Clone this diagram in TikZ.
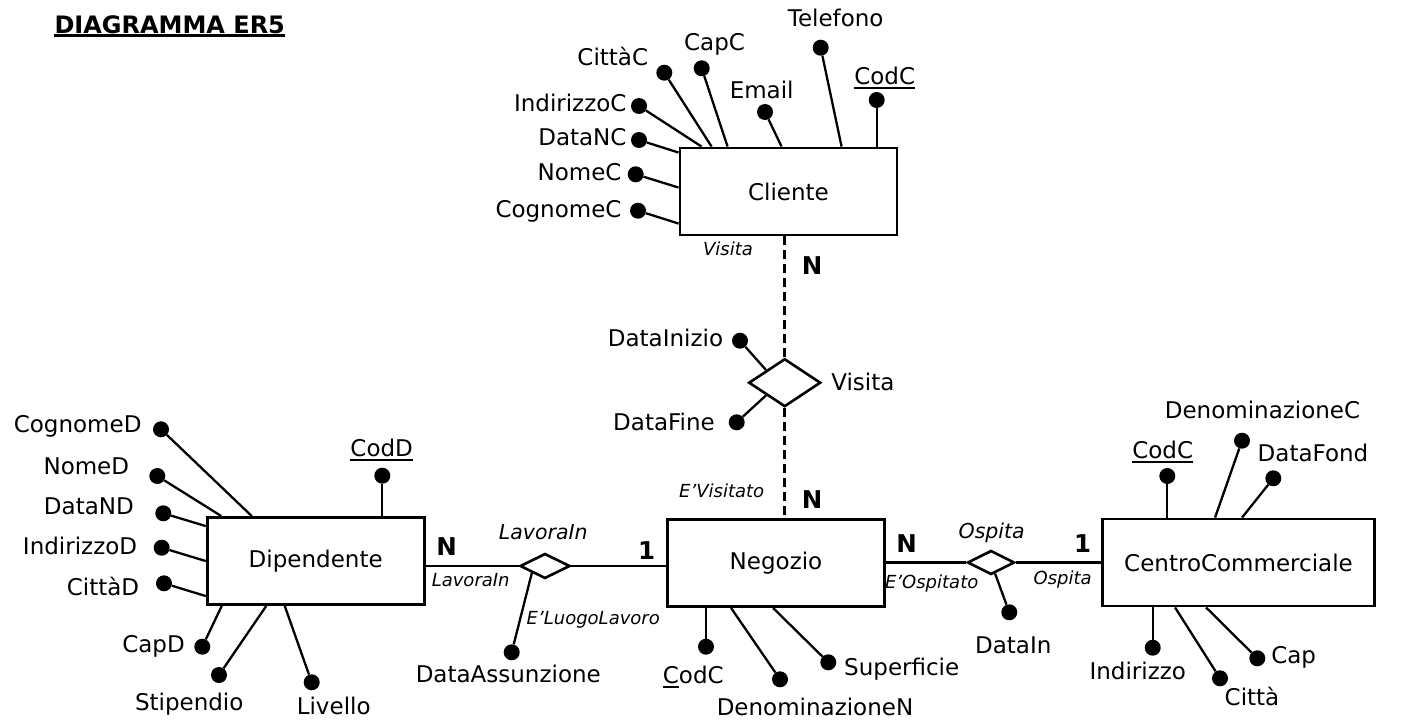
\documentclass[tikz,border=0pt]{standalone}
\usepackage{fontspec}
\setmainfont{DejaVu Sans}
\usetikzlibrary{shapes.geometric}
\tikzset{entity/.style = {shape=rectangle,draw,line width=2.9pt,minimum width=217pt,minimum height=87pt,font=\fontsize{23}{27}\selectfont}}
\tikzset{relation/.style = {shape=diamond,draw,line width=2.6pt,inner sep=0pt,minimum width=50pt,minimum height=25pt}}
\tikzset{dot/.style = {shape=circle,fill,inner sep=0pt,minimum size=16pt}}
\tikzset{txt/.style = {inner sep=0pt,text height=16.8pt,text depth=0pt,font=\fontsize{23}{27}\selectfont}}
\tikzset{role/.style = {inner sep=0pt,text height=13pt,text depth=0pt,font=\fontsize{18}{21}\selectfont\itshape}}
\tikzset{relname/.style = {inner sep=0pt,text height=15pt,text depth=0pt,font=\fontsize{20.5}{24}\selectfont\itshape}}
\tikzset{card/.style = {inner sep=0pt,text height=17.5pt,text depth=0pt,font=\fontsize{24.5}{28}\selectfont\bfseries}}
\tikzset{heading/.style = {inner sep=0pt,font=\fontsize{24}{28}\selectfont\bfseries}}
\tikzset{attr/.style = {line width=2.3pt}}
\tikzset{link/.style = {line width=2.6pt}}
\tikzset{dashlink/.style = {line width=2.6pt,dash pattern=on 9pt off 5pt}}
\newcommand{\chiave}[1]{\vtop{\hbox{#1}\kern2pt\hrule height1.8pt}}

\begin{document}
\begin{tikzpicture}[x=1pt,y=-1pt]
                \useasboundingbox (0,0) rectangle (1416,720);
                \node[heading, anchor=base west] (titolo) at (54.3,33.3) {DIAGRAMMA ER5};
                \draw[line width=3.3pt] ([yshift=-2.2pt]titolo.base west) -- ([yshift=-2.2pt]titolo.base east);

                \node[entity] (cli) at (788.5,191.5) {Cliente};
                \node[entity] (dip) at (315.7,561) {Dipendente};
                \node[entity] (neg) at (776,563) {Negozio};
                \node[entity, minimum width=272pt] (cc) at (1238.5,562.5) {CentroCommerciale};

                \node[relation, minimum width=72pt, minimum height=48pt] (vis) at (784.7,382.7) {};
                \node[txt] (nvis) at (862.8,382.5) {Visita};
                \draw[dashlink] (vis) -- (vis |- cli.south);
                \draw[dashlink] (vis) -- (vis |- neg.north);
                \node[card] (n1) at (812,266) {N};
                \node[card] (n2) at (812,499.3) {N};
                \node[role] (rvis) at (728,249.3) {Visita};
                \node[role] (rvisto) at (721.7,490.7) {E’Visitato};

                \node[relation] (lav) at (545,566) {};
                \node[relname] (nlav) at (543.3,531.7) {LavoraIn};
                \draw[link] (lav) -- (lav -| dip.east);
                \draw[link] (lav) -- (lav -| neg.west);
                \node[card] (n3) at (446.7,546.7) {N};
                \node[card] (u1) at (646.7,551) {1};
                \node[role] (rlav) at (470.7,580) {LavoraIn};
                \node[role] (rluogo) at (593.3,617.7) {E’LuogoLavoro};

                \node[relation, minimum width=47pt, minimum height=24pt] (osp) at (991,562.5) {};
                \node[relname] (nosp) at (991.7,531) {Ospita};
                \draw[link] (osp) -- (osp -| neg.east);
                \draw[link] (osp) -- (osp -| cc.west);
                \node[card] (n4) at (906.7,543.3) {N};
                \node[card] (u2) at (1082.7,543.3) {1};
                \node[role] (rosp) at (931.7,582.3) {E’Ospitato};
                \node[role] (rospita) at (1062.7,578.3) {Ospita};

                \node[dot] (codc) at (876.7,100) {};
                \node[txt] (lcodc) at (884.7,76) {\chiave{CodC}};
                \draw[attr] (codc) -- (codc |- cli.north);
                \node[dot] (tel) at (820.7,47.7) {};
                \node[txt] (ltel) at (835.7,18.3) {Telefono};
                \draw[attr] (tel) -- ([xshift=163pt]cli.north west);
                \node[dot] (email) at (765,112) {};
                \node[txt] (lemail) at (761.7,90) {Email};
                \draw[attr] (email) -- ([xshift=103pt]cli.north west);
                \node[dot] (capc) at (701.7,68.3) {};
                \node[txt] (lcapc) at (714.5,42.5) {CapC};
                \draw[attr] (capc) -- ([xshift=49pt]cli.north west);
                \node[dot] (cittac) at (664.3,72.7) {};
                \node[txt, anchor=east] (lcittac) at (648.3,57.5) {CittàC};
                \draw[attr] (cittac) -- ([xshift=33pt]cli.north west);
                \node[dot] (indc) at (639,106) {};
                \node[txt, anchor=east] (lindc) at (626.7,103) {IndirizzoC};
                \draw[attr] (indc) -- ([xshift=23pt]cli.north west);
                \node[dot] (datanc) at (639,140) {};
                \node[txt, anchor=east] (ldatanc) at (626.7,137.5) {DataNC};
                \draw[attr] (datanc) -- ([yshift=-6pt]cli.north west);
                \node[dot] (nomec) at (635.7,174.3) {};
                \node[txt, anchor=east] (lnomec) at (621.7,172.5) {NomeC};
                \draw[attr] (nomec) -- ([yshift=-41pt]cli.north west);
                \node[dot] (cognc) at (638,210.7) {};
                \node[txt, anchor=east] (lcognc) at (621.7,209) {CognomeC};
                \draw[attr] (cognc) -- ([yshift=-77pt]cli.north west);

                \node[dot] (dini) at (740,340.7) {};
                \node[txt, anchor=east] (ldini) at (723.3,338.3) {DataInizio};
                \draw[attr] (dini) -- (vis.north west);
                \node[dot] (dfine) at (736.7,422.3) {};
                \node[txt, anchor=east] (ldfine) at (715,422.3) {DataFine};
                \draw[attr] (dfine) -- (vis.south west);

                \node[dot] (codd) at (382.3,475.7) {};
                \node[txt] (lcodd) at (381.7,448.3) {\chiave{CodD}};
                \draw[attr] (codd) -- (codd |- dip.north);
                \node[dot] (cognd) at (161,429.3) {};
                \node[txt, anchor=east] (lcognd) at (141.7,424) {CognomeD};
                \draw[attr] (cognd) -- ([xshift=46pt]dip.north west);
                \node[dot] (nomed) at (157.3,476) {};
                \node[txt, anchor=east] (lnomed) at (129.3,466) {NomeD};
                \draw[attr] (nomed) -- ([xshift=15.5pt]dip.north west);
                \node[dot] (datand) at (163.3,513.3) {};
                \node[txt, anchor=east] (ldatand) at (134,506) {DataND};
                \draw[attr] (datand) -- ([yshift=-10pt]dip.north west);
                \node[dot] (indd) at (161.7,547.7) {};
                \node[txt, anchor=east] (lindd) at (137.3,545.8) {IndirizzoD};
                \draw[attr] (indd) -- ([yshift=-45pt]dip.north west);
                \node[dot] (cittad) at (164,583.3) {};
                \node[txt, anchor=east] (lcittad) at (139.3,587.3) {CittàD};
                \draw[attr] (cittad) -- ([yshift=-80pt]dip.north west);
                \node[dot] (capd) at (202.3,646.7) {};
                \node[txt, anchor=east] (lcapd) at (185,644.3) {CapD};
                \draw[attr] (capd) -- ([xshift=16pt]dip.south west);
                \node[dot] (stip) at (219,675) {};
                \node[txt] (lstip) at (189.2,701.7) {Stipendio};
                \draw[attr] (stip) -- ([xshift=60.5pt]dip.south west);
                \node[dot] (liv) at (311.7,682.3) {};
                \node[txt] (lliv) at (333.7,706) {Livello};
                \draw[attr] (liv) -- ([xshift=79pt]dip.south west);

                \node[dot] (dass) at (511.7,652.3) {};
                \node[txt] (ldass) at (508.3,674) {DataAssunzione};
                \draw[attr] (dass) -- (lav.south west);

                \node[dot] (codn) at (706,646.7) {};
                \node[txt] (lcodn) at (693.3,675) {\chiave{C}odC};
                \draw[attr] (codn) -- (codn |- neg.south);
                \node[dot] (denn) at (780,679.3) {};
                \node[txt] (ldenn) at (815,706.7) {DenominazioneN};
                \draw[attr] (denn) -- ([xshift=65pt]neg.south west);
                \node[dot] (sup) at (828.3,662.3) {};
                \node[txt, anchor=west] (lsup) at (844,666.7) {Superficie};
                \draw[attr] (sup) -- ([xshift=107pt]neg.south west);

                \node[dot] (datain) at (1009.3,612.3) {};
                \node[txt] (ldatain) at (1013.3,645) {DataIn};
                \draw[attr] (datain) -- (osp);

                \node[dot] (codcc) at (1167.3,476) {};
                \node[txt] (lcodcc) at (1162.7,450) {\chiave{CodC}};
                \draw[attr] (codcc) -- (codcc |- cc.north);
                \node[dot] (denc) at (1242,440.7) {};
                \node[txt] (ldenc) at (1262.5,410) {DenominazioneC};
                \draw[attr] (denc) -- ([xshift=114pt]cc.north west);
                \node[dot] (dfond) at (1273.3,478.3) {};
                \node[txt] (ldfond) at (1313,452.7) {DataFond};
                \draw[attr] (dfond) -- ([xshift=141pt]cc.north west);
                \node[dot] (indcc) at (1152.7,647.7) {};
                \node[txt] (lindcc) at (1137.8,671) {Indirizzo};
                \draw[attr] (indcc) -- (indcc |- cc.south);
                \node[dot] (cittacc) at (1220,678.3) {};
                \node[txt] (lcittacc) at (1252,696.7) {Città};
                \draw[attr] (cittacc) -- ([xshift=74pt]cc.south west);
                \node[dot] (capcc) at (1257.3,658.3) {};
                \node[txt] (lcapcc) at (1293.7,655.3) {Cap};
                \draw[attr] (capcc) -- ([xshift=105pt]cc.south west);
            \end{tikzpicture}
\end{document}
